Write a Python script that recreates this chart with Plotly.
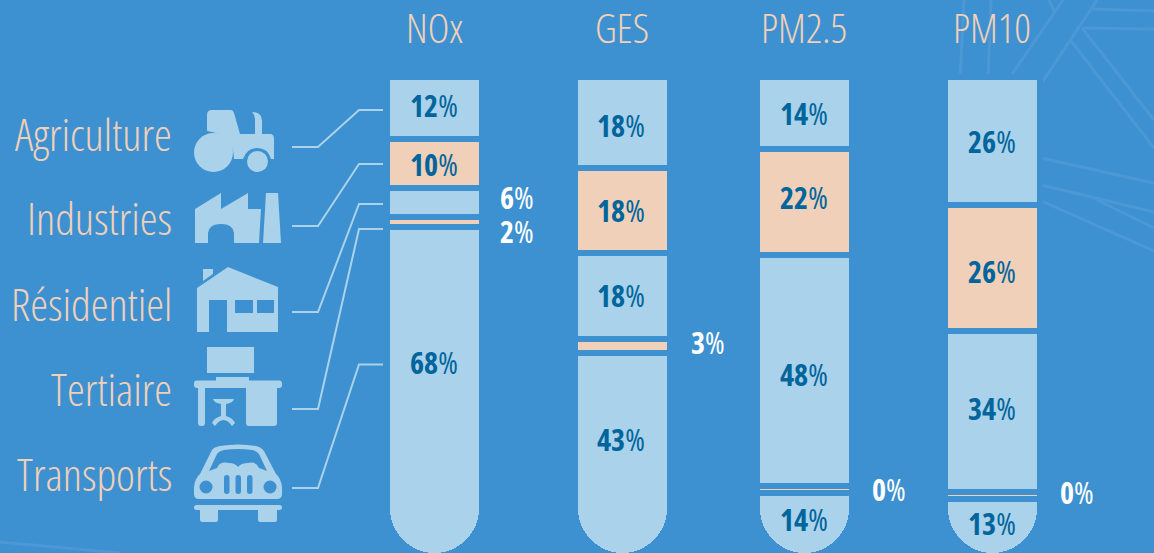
import plotly.graph_objects as go

# ---------- data ----------
POLLUTANTS = ["NOx", "GES", "PM2.5", "PM10"]
SECTORS = ["Agriculture", "Industries", "Résidentiel", "Tertiaire", "Transports"]
# printed shares (%), per sector, in pollutant order
LABEL_AGRICULTURE = [12, 18, 14, 26]
LABEL_INDUSTRIES = [10, 18, 22, 26]
LABEL_RESIDENTIEL = [6, 18, 48, 34]
LABEL_TERTIAIRE = [2, 3, 0, 0]
LABEL_TRANSPORTS = [68, 43, 14, 13]
# segment lengths as measured on the picture (% of the column)
DRAWN_AGRICULTURE = [12.9, 19.0, 15.0, 26.7]
DRAWN_INDUSTRIES = [10.2, 17.8, 22.1, 26.3]
DRAWN_RESIDENTIEL = [6.1, 17.8, 48.3, 33.7]
DRAWN_TERTIAIRE = [2.1, 3.1, 1.5, 1.5]
DRAWN_TRANSPORTS = [68.7, 42.2, 13.1, 11.8]

# ---------- layout constants ----------
W, H = 1154, 553
BG, LIGHT, PEACH, DARK = "#3d91d0", "#aad2ea", "#f0d0b9", "#00659c"
FAINT = "#4c98d4"
FONT = "Open Sans"
COLUMN_X = [434.5, 622.5, 804.5, 992.5]
TOP_PX, PX_PER_UNIT = 77.0, 4.79


def Y(py):
    return (py - TOP_PX) / PX_PER_UNIT


def P(*cmds):
    """Build an SVG path from (command, x, y, x, y...) given in page pixels."""
    out = []
    for c in cmds:
        if c == "Z":
            out.append("Z")
            continue
        k = c[0]
        nums = c[1:]
        pairs = [f"{nums[i]},{Y(nums[i + 1]):.4f}" for i in range(0, len(nums), 2)]
        out.append(k + " " + " ".join(pairs))
    return " ".join(out)


def poly(points, closed=True):
    cmds = [("M", *points[0])] + [("L", *p) for p in points[1:]]
    if closed:
        cmds.append("Z")
    return P(*cmds)


def rrect(x0, y0, x1, y1, r):
    return P(("M", x0 + r, y0), ("L", x1 - r, y0), ("Q", x1, y0, x1, y0 + r),
             ("L", x1, y1 - r), ("Q", x1, y1, x1 - r, y1), ("L", x0 + r, y1),
             ("Q", x0, y1, x0, y1 - r), ("L", x0, y0 + r), ("Q", x0, y0, x0 + r, y0), "Z")


shapes = []


def fill(path, color=LIGHT):
    shapes.append(dict(type="path", path=path, xref="x", yref="y", fillcolor=color,
                       line=dict(width=0), layer="above"))


def circle(cx, cy, r, color=LIGHT):
    shapes.append(dict(type="circle", xref="x", yref="y", x0=cx - r, x1=cx + r,
                       y0=Y(cy - r), y1=Y(cy + r), fillcolor=color,
                       line=dict(width=0), layer="above"))


def stroke(points, color, width, layer="below"):
    shapes.append(dict(type="path", path=poly(points, closed=False), xref="x", yref="y",
                       line=dict(color=color, width=width), layer=layer))


# faint background pattern
for seg in [
    [(964, 0), (960, 80)], [(991, 0), (988, 80)],
    [(1097, 0), (1037, 90)], [(1063, 0), (1008, 80)], [(1049, 0), (1055, 13)],
    [(1093, 9), (1154, 11)], [(1082, 28), (1154, 29)],
    [(1082, 28), (1154, 120)], [(1071, 41), (1154, 148)],
    [(1037, 157), (1154, 183)], [(1037, 184), (1154, 212)],
    [(1037, 199), (1154, 251)], [(1097, 200), (1154, 228)],
    [(0, 542), (120, 553)],
]:
    stroke(seg, FAINT, 3)

# leader lines
for seg in [
    [(292, 147), (318, 147), (359, 110), (383, 110)],
    [(292, 226), (318, 226), (359, 164), (383, 164)],
    [(292, 312), (318, 312), (359, 204), (383, 204)],
    [(292, 409), (318, 409), (359, 229), (383, 229)],
    [(292, 488), (318, 488), (359, 364.5), (383, 364.5)],
]:
    stroke(seg, LIGHT, 2, "above")

# tractor
fill(P(("M", 207, 115), ("Q", 207, 110, 212, 110), ("L", 231, 110), ("Q", 233, 110, 234, 113),
       ("L", 240, 134), ("L", 255, 134), ("L", 255, 119), ("Q", 255, 115, 252, 112),
       ("Q", 262, 112, 262, 121), ("L", 262, 134), ("L", 270, 134), ("Q", 274, 134, 274, 139),
       ("L", 274, 159), ("L", 271, 159), ("Q", 268, 148, 257, 148), ("Q", 247, 148, 243, 159),
       ("L", 234, 159), ("Q", 234, 135, 207, 131), "Z"))
circle(213.5, 152.5, 19.5)
circle(257.5, 161.5, 10.5)

# factory
fill(poly([(195, 209), (221, 193), (221, 209), (248, 193), (248, 209), (261, 209), (259, 243), (195, 243)]))
fill(P(("M", 208, 243), ("L", 208, 233), ("Q", 209, 224, 221, 224), ("Q", 233, 224, 234, 233), ("L", 234, 243), "Z"), BG)
fill(poly([(266, 193), (278, 193), (281, 243), (263, 243)]))

# house
fill(poly([(197, 288), (228, 267), (278, 287), (278, 332), (197, 332)]))
fill(poly([(203, 269), (213, 269), (213, 274), (203, 281)]))
fill(poly([(209, 300), (227, 300), (227, 333), (209, 333)]), BG)
fill(poly([(235, 300), (253, 300), (253, 313), (235, 313)]), BG)
fill(poly([(257, 300), (274, 300), (274, 313), (257, 313)]), BG)

# desk
fill(poly([(207, 347), (254, 347), (254, 373), (207, 373)]))
fill(poly([(216, 377), (249, 377), (249, 382), (216, 382)]))
fill(rrect(194, 380.5, 282, 388, 3))
fill(rrect(198, 384, 205, 426, 3))
fill(rrect(246, 384, 277, 426, 3))
fill(P(("M", 213, 399), ("L", 234, 399), ("Q", 233, 403, 226, 404), ("L", 226, 416),
       ("Q", 233, 418, 235, 423), ("L", 232, 426), ("Q", 228, 420, 223.5, 420),
       ("Q", 219, 420, 215, 426), ("L", 212, 423), ("Q", 214, 418, 221, 416),
       ("L", 221, 404), ("Q", 214, 403, 213, 399), "Z"))

# car
fill(P(("M", 194, 487), ("Q", 195, 478, 200, 474), ("L", 212, 450), ("Q", 214, 447, 220, 446),
       ("Q", 238, 443, 256, 446), ("Q", 261, 447, 264, 451), ("L", 276, 474), ("Q", 281, 478, 282, 487),
       ("L", 282, 494), ("Q", 282, 499, 277, 499), ("L", 199, 499), ("Q", 194, 499, 194, 494), "Z"))
fill(P(("M", 209, 471), ("L", 217, 454), ("Q", 219, 451, 224, 450), ("Q", 238, 448, 252, 450),
       ("Q", 257, 451, 259, 454), ("L", 267, 471), ("L", 259, 468), ("Q", 256, 461, 248, 463),
       ("Q", 241, 463, 238, 467), ("Q", 235, 463, 229, 463), ("Q", 220, 461, 217, 468), "Z"), BG)
circle(206, 487, 6.5, BG)
circle(270, 487, 6.5, BG)
fill(rrect(224, 475, 229.5, 494, 2.7), BG)
fill(rrect(235.5, 475, 241, 494, 2.7), BG)
fill(rrect(247, 475, 252.5, 494, 2.7), BG)
fill(rrect(194, 505, 282, 510, 2.5))
fill(rrect(200, 506, 218, 522, 2.5))
fill(rrect(258, 506, 277, 522, 2.5))

# ---------- stacked columns ----------
fig = go.Figure()
for name, drawn, color in zip(
    SECTORS,
    [DRAWN_AGRICULTURE, DRAWN_INDUSTRIES, DRAWN_RESIDENTIEL, DRAWN_TERTIAIRE, DRAWN_TRANSPORTS],
    [LIGHT, PEACH, LIGHT, PEACH, LIGHT],
):
    fig.add_trace(go.Bar(
        x=COLUMN_X, y=drawn, name=name, width=95, showlegend=False, hoverinfo="skip",
        marker=dict(color=color, line=dict(color=BG, width=6), cornerradius=47.5),
    ))

# ---------- text ----------
ann = []


def text(x, py, s, size, color, anchor="center", weight=400, height=None):
    a = dict(x=x, y=Y(py), xref="x", yref="y", text=s, showarrow=False, xanchor=anchor,
             yanchor="middle", font=dict(family=FONT, size=size, color=color, weight=weight))
    if height:
        a["height"] = height
    ann.append(a)


for name, py in zip(SECTORS, [133, 217, 303, 388, 473]):
    text(174, py, name, 45, PEACH, "right", 300)
for name, cx in zip(POLLUTANTS, [434, 622, 804, 992]):
    text(cx, 27, name, 41, PEACH, "center", 300)


def pct(v):
    return f"<b>{v}</b>%"


LABEL_PLACES = [
    (LABEL_AGRICULTURE, [(434, 105), (621, 125), (804, 113), (992, 141)], DARK),
    (LABEL_INDUSTRIES, [(434, 164), (621, 210), (804, 197), (992, 271)], DARK),
    (LABEL_RESIDENTIEL, [(517, 197), (621, 295), (804, 374), (992, 408)], None),
    (LABEL_TERTIAIRE, [(517, 231), (708, 342), (889, 489), (1077, 492)], "#ffffff"),
    (LABEL_TRANSPORTS, [(434, 362), (621, 439), (804, 519), (992, 523)], DARK),
]
for labels, places, col in LABEL_PLACES:
    for v, (x, py) in zip(labels, places):
        c = col or ("#ffffff" if x == 517 else DARK)
        text(x, py, pct(v), 30, c, height=30)

fig.update_layout(
    width=W, height=H, autosize=False, barmode="stack", bargap=0,
    margin=dict(l=0, r=0, t=0, b=0), paper_bgcolor=BG, plot_bgcolor=BG,
    xaxis=dict(range=[0, W], visible=False, fixedrange=True),
    yaxis=dict(range=[Y(H), Y(0)], visible=False, fixedrange=True),
    shapes=shapes, annotations=ann,
)
fig.write_html(
    "out.html",
    config={"displayModeBar": False, "responsive": False},
    post_script=(
        "document.body.style.margin='0';document.body.style.overflow='hidden';"
        "var s=document.createElement('style');"
        "s.textContent='text{font-stretch:75%}';"
        "document.head.appendChild(s);"
        "var gd=document.getElementById('{plot_id}');"
        "var a=JSON.parse(JSON.stringify(gd.layout.annotations));"
        "a.forEach(function(n){n.font.family=\"'Open Sans', sans-serif\";});"
        "Plotly.relayout(gd,{annotations:a});"
    ),
)
